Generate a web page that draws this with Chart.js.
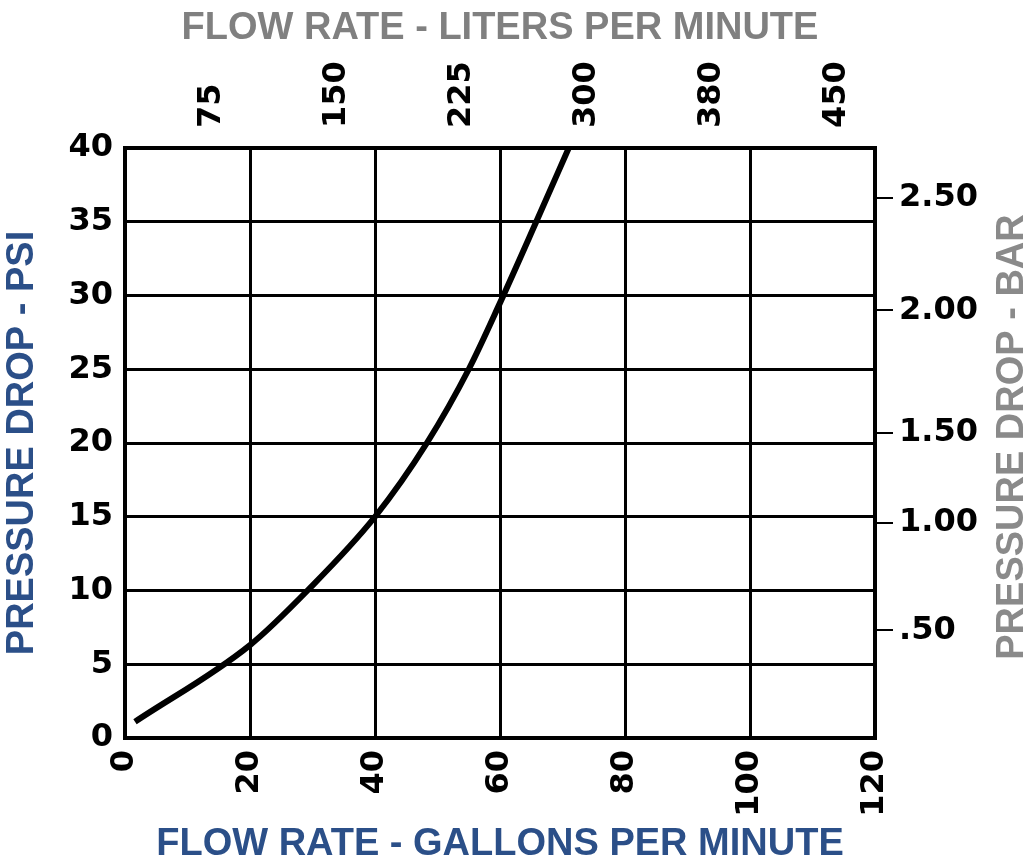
<!DOCTYPE html>
<html>
<head>
<meta charset="utf-8">
<script src="https://cdn.jsdelivr.net/npm/chart.js@4/dist/chart.umd.min.js"></script>
<style>
  body { margin: 0; background: #fff; }
  canvas { display: block; }
</style>
</head>
<body>
<canvas id="pressureChart" width="1024" height="867"></canvas>
<script>
// flow (gallons per minute) vs pressure drop (psi)
const gpm = [1.6, 20, 29.2, 40, 48.3, 55, 60, 65.8, 71];
const psi = [1.1, 6.3, 10, 15, 20, 25, 29.5, 35, 40];

// top axis labels (liters per minute) at 0, 20, 40 ... 120 gpm
const lpmLabels = ['', '75', '150', '225', '300', '380', '450'];

// right axis: bar labels and where they sit on the psi scale
const barLabels = ['.50', '1.00', '1.50', '2.00', '2.50'];
const barAtPsi = [7.3, 14.6, 20.7, 29.0, 36.6];

const tickFont = { family: "'DejaVu Sans', sans-serif", size: 32, weight: 'bold' };
const titleFont = { family: "'Liberation Sans', sans-serif", size: 38, weight: 'bold' };
const blue = '#2b4f88';
const grey = '#808080';

const rightTitle = {
    id: 'rightTitle',
    afterDraw(chart) {
        const { ctx, chartArea } = chart;
        ctx.save();
        ctx.translate(chart.width - 11, (chartArea.top + chartArea.bottom) / 2 - 6);
        ctx.rotate(-Math.PI / 2);
        ctx.font = `bold ${titleFont.size}px ${titleFont.family}`;
        ctx.fillStyle = '#8a8a8a';
        ctx.textAlign = 'center';
        ctx.textBaseline = 'middle';
        ctx.fillText('PRESSURE DROP - BAR', 0, 0);
        ctx.restore();
    }
};

const ctx = document.getElementById('pressureChart').getContext('2d');

const pressureChart = new Chart(ctx, {
    type: 'line',
    data: {
        datasets: [{
            label: 'Pressure drop',
            data: gpm.map((g, i) => ({ x: g, y: psi[i] })),
            borderColor: '#000',
            borderWidth: 6,
            pointRadius: 0,
            cubicInterpolationMode: 'monotone',
            fill: false,
        }]
    },
    options: {
        responsive: false,
        animation: false,
        layout: { padding: 0 },
        plugins: {
            legend: { display: false },
            tooltip: { enabled: false }
        },
        scales: {
            x: {
                type: 'linear',
                position: 'bottom',
                min: 0,
                max: 120,
                afterFit: (s) => { s.height = 129; },
                ticks: {
                    stepSize: 20,
                    minRotation: 90,
                    maxRotation: 90,
                    padding: 12,
                    color: '#000',
                    font: tickFont
                },
                grid: { color: '#000', lineWidth: 3, drawTicks: false },
                border: { color: '#000', width: 4 },
                title: {
                    display: true,
                    text: 'FLOW RATE - GALLONS PER MINUTE',
                    color: blue,
                    font: titleFont,
                    padding: { top: 0, bottom: 0 }
                }
            },
            x2: {
                type: 'linear',
                position: 'top',
                min: 0,
                max: 120,
                afterFit: (s) => { s.height = 148; },
                ticks: {
                    stepSize: 20,
                    minRotation: 90,
                    maxRotation: 90,
                    padding: 20,
                    color: '#000',
                    font: tickFont,
                    callback: (v, i) => lpmLabels[i]
                },
                grid: { drawOnChartArea: false, drawTicks: false },
                border: { color: '#000', width: 4 },
                title: {
                    display: true,
                    text: 'FLOW RATE - LITERS PER MINUTE',
                    color: grey,
                    font: titleFont,
                    padding: { top: 6, bottom: 0 }
                }
            },
            y: {
                position: 'left',
                min: 0,
                max: 40,
                afterFit: (s) => { s.width = 125; },
                ticks: {
                    stepSize: 5,
                    padding: 12,
                    color: '#000',
                    font: tickFont
                },
                grid: { color: '#000', lineWidth: 3, drawTicks: false },
                border: { color: '#000', width: 4 },
                title: {
                    display: true,
                    text: 'PRESSURE DROP - PSI',
                    color: blue,
                    font: titleFont,
                    padding: { top: 0, bottom: 0 }
                }
            },
            y2: {
                position: 'right',
                min: 0,
                max: 40,
                afterFit: (s) => { s.width = 149; },
                afterBuildTicks: (s) => { s.ticks = barAtPsi.map(v => ({ value: v })); },
                ticks: {
                    padding: 6,
                    color: '#000',
                    font: tickFont,
                    callback: (v, i) => barLabels[i]
                },
                grid: { drawOnChartArea: false, color: '#000', lineWidth: 2, tickLength: 18 },
                border: { color: '#000', width: 4 }
            }
        }
    },
    plugins: [rightTitle]
});
</script>
</body>
</html>
